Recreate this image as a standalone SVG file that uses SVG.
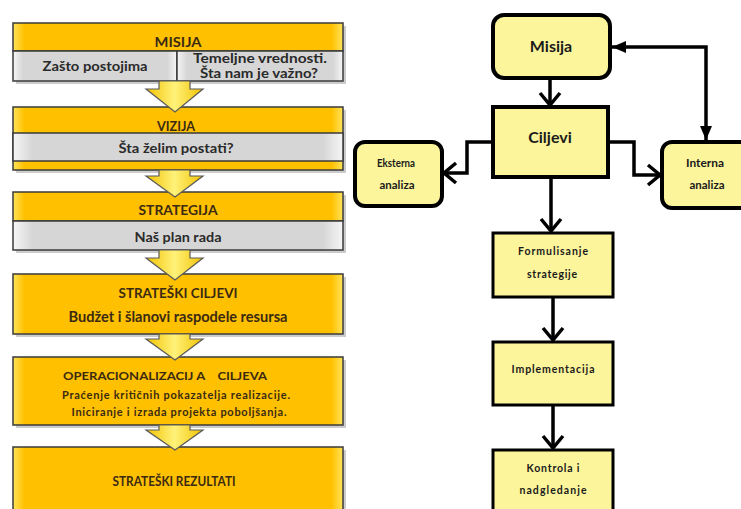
<svg xmlns="http://www.w3.org/2000/svg" width="741" height="509" viewBox="0 0 741 509">
<defs>
<linearGradient id="og" x1="0" y1="0" x2="1" y2="0">
<stop offset="0" stop-color="#FFE45A"/><stop offset="0.035" stop-color="#FFC000"/><stop offset="0.965" stop-color="#FFC000"/><stop offset="1" stop-color="#FFE45A"/>
</linearGradient>
<linearGradient id="gg" x1="0" y1="0" x2="1" y2="0">
<stop offset="0" stop-color="#F6F6F6"/><stop offset="0.06" stop-color="#D6D6D6"/><stop offset="0.94" stop-color="#D6D6D6"/><stop offset="1" stop-color="#F6F6F6"/>
</linearGradient>
<linearGradient id="ag" x1="0" y1="0" x2="1" y2="0">
<stop offset="0" stop-color="#F2C200"/><stop offset="0.5" stop-color="#FFF27A"/><stop offset="1" stop-color="#F2C200"/>
</linearGradient>
<marker id="chev" markerUnits="userSpaceOnUse" markerWidth="26" markerHeight="26" viewBox="0 0 26 26" refX="21" refY="13" orient="auto">
<path d="M9,3 L21,13 L9,23" fill="none" stroke="#000" stroke-width="3.5" stroke-linejoin="miter"/>
</marker>
<marker id="tri" markerUnits="userSpaceOnUse" markerWidth="20" markerHeight="20" viewBox="0 0 20 20" refX="16" refY="10" orient="auto">
<path d="M2,4 L16,10 L2,16 z" fill="#000"/>
</marker>
<style>
.ob{fill:url(#og);stroke:#3a3a3a;stroke-width:1.5}
.gb{fill:url(#gg);stroke:#3a3a3a;stroke-width:1.5}
.sh{fill:#9a9a9a;opacity:0.5}
.arw{fill:url(#ag);stroke:#5a5a5a;stroke-width:1.2}
.lt{font-family:Lato,"Liberation Sans",sans-serif;font-weight:bold;text-anchor:middle;fill:#3b2a12}
.gt{font-family:Lato,"Liberation Sans",sans-serif;font-weight:bold;text-anchor:middle;fill:#2a2a2a}
.rb{fill:#FCF59C;stroke:#000;stroke-width:4}
.sb{fill:#FCF59C;stroke:#000;stroke-width:3}
.rt{font-family:Lato,"Liberation Sans",sans-serif;font-weight:bold;text-anchor:middle;fill:#1a1a1a}
.cn{fill:none;stroke:#000;stroke-width:3.5}
</style>
</defs>
<rect width="741" height="509" fill="#fff"/>

<g id="misija-left">
<rect class="sh" x="16" y="26" width="330" height="58"/>
<rect class="ob" x="13" y="23" width="330" height="28"/>
<rect class="gb" x="13" y="51" width="164" height="30"/>
<rect class="gb" x="177" y="51" width="166" height="30"/>
<text class="lt" x="178" y="47" font-size="13.5" textLength="47" lengthAdjust="spacingAndGlyphs">MISIJA</text>
<text class="gt" x="95" y="71" font-size="14" textLength="105" lengthAdjust="spacingAndGlyphs">Zašto postojima</text>
<text class="gt" x="260" y="63" font-size="12.5" textLength="134" lengthAdjust="spacingAndGlyphs">Temeljne vrednosti.</text>
<text class="gt" x="259" y="78" font-size="12.5" textLength="118" lengthAdjust="spacingAndGlyphs">Šta nam je važno?</text>
</g>
<g id="vizija">
<rect class="sh" x="16" y="110" width="330" height="63"/>
<rect class="ob" x="13" y="107" width="330" height="63"/>
<rect class="gb" x="13" y="133" width="330" height="28"/>
<text class="lt" x="176" y="131" font-size="13.5" textLength="38" lengthAdjust="spacingAndGlyphs">VIZIJA</text>
<text class="gt" x="176" y="153" font-size="14" textLength="115" lengthAdjust="spacingAndGlyphs">Šta želim postati?</text>
</g>
<g id="strategija">
<rect class="sh" x="16" y="195" width="330" height="58"/>
<rect class="ob" x="13" y="192" width="330" height="29"/>
<rect class="gb" x="13" y="221" width="330" height="29"/>
<text class="lt" x="178" y="215" font-size="13.5" textLength="79" lengthAdjust="spacingAndGlyphs">STRATEGIJA</text>
<text class="gt" x="178" y="242" font-size="14" textLength="87" lengthAdjust="spacingAndGlyphs">Naš plan rada</text>
</g>
<g id="strateski-ciljevi">
<rect class="sh" x="16" y="277" width="330" height="60"/>
<rect class="ob" x="13" y="274" width="330" height="60"/>
<text class="lt" x="178" y="298" font-size="13.5" textLength="119" lengthAdjust="spacingAndGlyphs">STRATEŠKI CILJEVI</text>
<text class="lt" x="178" y="322" font-size="14.5" textLength="219" lengthAdjust="spacingAndGlyphs">Budžet i šlanovi raspodele resursa</text>
</g>
<g id="operacionalizacija">
<rect class="sh" x="16" y="360" width="330" height="68"/>
<rect class="ob" x="13" y="357" width="330" height="68"/>
<text class="lt" x="63" y="380" font-size="10.5" style="text-anchor:start" xml:space="preserve" textLength="204" lengthAdjust="spacingAndGlyphs">OPERACIONALIZACIJ A    CILJEVA</text>
<text class="lt" x="176" y="399" font-size="11" textLength="228" lengthAdjust="spacing">Praćenje kritičnih pokazatelja realizacije.</text>
<text class="lt" x="179" y="416" font-size="11" textLength="215" lengthAdjust="spacing">Iniciranje i izrada projekta poboljšanja.</text>
</g>
<g id="strateski-rezultati">
<rect class="sh" x="16" y="450" width="330" height="70"/>
<rect class="ob" x="13" y="447" width="330" height="70"/>
<text class="lt" x="174" y="486" font-size="14" textLength="123" lengthAdjust="spacingAndGlyphs">STRATEŠKI REZULTATI</text>
</g>
<g id="left-arrows">
<path class="arw" d="M159,81 H190 V89 H203 L175,112 L146,89 H159 Z"/>
<path class="arw" d="M159,170 H190 V176 H203 L175,197 L146,176 H159 Z"/>
<path class="arw" d="M159,250 H190 V258 H203 L175,280 L146,258 H159 Z"/>
<path class="arw" d="M159,334 H190 V339 H203 L175,360 L146,339 H159 Z"/>
<path class="arw" d="M159,425 H190 V430 H203 L175,450 L146,430 H159 Z"/>
</g>

<g id="connectors">
<path class="cn" d="M550,78 V105" marker-end="url(#chev)"/>
<path class="cn" d="M493,142 H467 V173 H444" marker-end="url(#chev)"/>
<path class="cn" d="M608,142 H634 V175 H660" marker-end="url(#chev)"/>
<path class="cn" d="M706,90 V47 H612" marker-end="url(#tri)"/>
<path class="cn" d="M706,90 V140" marker-end="url(#tri)"/>
<path class="cn" d="M551,177 V231" marker-end="url(#chev)"/>
<path class="cn" d="M553,297 V340" marker-end="url(#chev)"/>
<path class="cn" d="M553,405 V448" marker-end="url(#chev)"/>
</g>
<g id="misija">
<rect class="rb" x="493" y="15" width="117" height="63" rx="11"/>
<text class="rt" x="551" y="52" font-size="16">Misija</text>
</g>
<g id="ciljevi">
<rect class="rb" x="493" y="107" width="115" height="70"/>
<text class="rt" x="550" y="143" font-size="16">Ciljevi</text>
</g>
<g id="eksterna">
<rect class="rb" x="355" y="142" width="87" height="64" rx="10"/>
<text class="rt" x="396" y="167" font-size="10.5" textLength="38" lengthAdjust="spacingAndGlyphs">Eksterna</text>
<text class="rt" x="397" y="189" font-size="10.5" textLength="35" lengthAdjust="spacingAndGlyphs">analiza</text>
</g>
<g id="interna">
<rect class="rb" x="662" y="142" width="90" height="66" rx="10"/>
<text class="rt" x="705" y="167" font-size="10.5" textLength="38" lengthAdjust="spacingAndGlyphs">Interna</text>
<text class="rt" x="707" y="189" font-size="10.5" textLength="35" lengthAdjust="spacingAndGlyphs">analiza</text>
</g>
<g id="formulisanje">
<rect class="sb" x="493" y="233" width="120" height="64"/>
<text class="rt" x="553" y="255" font-size="10.5" textLength="70" lengthAdjust="spacing">Formulisanje</text>
<text class="rt" x="552" y="278" font-size="10.5" textLength="50" lengthAdjust="spacing">strategije</text>
</g>
<g id="implementacija">
<rect class="sb" x="493" y="342" width="120" height="63"/>
<text class="rt" x="553" y="373" font-size="10.5" textLength="83" lengthAdjust="spacing">Implementacija</text>
</g>
<g id="kontrola">
<rect class="sb" x="493" y="450" width="120" height="70"/>
<text class="rt" x="553" y="472" font-size="10.5" textLength="53" lengthAdjust="spacing">Kontrola i</text>
<text class="rt" x="553" y="494" font-size="10.5" textLength="67" lengthAdjust="spacing">nadgledanje</text>
</g>
</svg>
